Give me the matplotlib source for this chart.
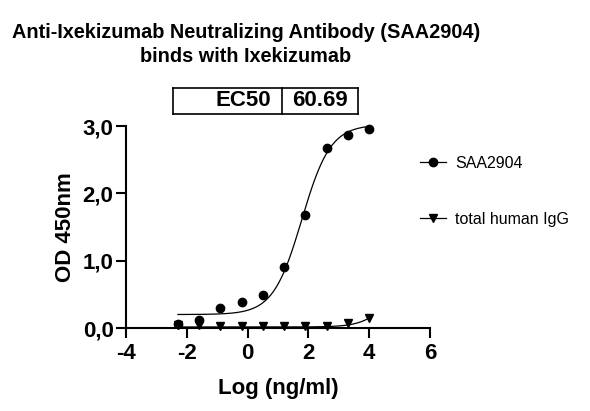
import numpy as np
import matplotlib.pyplot as plt
from matplotlib.lines import Line2D

plt.rcParams['font.family'] = ['Liberation Sans', 'DejaVu Sans']
plt.rcParams['axes.unicode_minus'] = False

# log10 concentration (ng/ml), 5-fold dilution series from 10000 ng/ml
log_conc = [-2.291, -1.592, -0.893, -0.194, 0.505, 1.204, 1.903, 2.602, 3.301, 4.0]
od_saa2904 = [0.06, 0.12, 0.30, 0.38, 0.49, 0.91, 1.68, 2.68, 2.86, 2.95]
od_igg = [0.04, 0.05, 0.03, 0.03, 0.03, 0.03, 0.03, 0.03, 0.08, 0.15]

series_names = ['SAA2904', 'total human IgG']
ec50_value = '60.69'

# 4PL fit parameters (bottom, top, logEC50, hill)
fit_saa2904 = (0.20, 3.02, np.log10(60.69), 0.92)
fit_igg = (0.015, 1.0, 4.8, 1.0)


def four_pl(x, bottom, top, log_ec50, hill):
    return bottom + (top - bottom) / (1 + 10 ** ((log_ec50 - x) * hill))


fig = plt.figure(figsize=(5.9, 4.11), dpi=100)
ax = fig.add_axes([126 / 590, 83 / 411, 304 / 590, 202 / 411])

xs = np.linspace(min(log_conc), max(log_conc), 300)
ax.plot(xs, four_pl(xs, *fit_saa2904), color='black', lw=0.9, clip_on=False)
ax.plot(xs, four_pl(xs, *fit_igg), color='black', lw=0.9, clip_on=False)
ax.plot(log_conc, od_saa2904, 'o', color='black', ms=6, clip_on=False, zorder=3)
ax.plot(log_conc, od_igg, 'v', color='black', ms=6, clip_on=False, zorder=3)

ax.set_xlim(-4, 6)
ax.set_ylim(0, 3)
ax.set_xticks([-4, -2, 0, 2, 4, 6])
ax.set_yticks([0, 1, 2, 3])
ax.set_yticklabels([f'{v:.1f}'.replace('.', ',') for v in [0, 1, 2, 3]])

for side in ['top', 'right']:
    ax.spines[side].set_visible(False)
for side in ['left', 'bottom']:
    ax.spines[side].set_linewidth(1.5)
ax.tick_params(direction='out', length=7, width=1.5, labelsize=16, pad=2)
ax.tick_params(axis='x', pad=4)
for lab in ax.get_xticklabels() + ax.get_yticklabels():
    lab.set_fontweight('bold')

ax.set_xlabel('Log (ng/ml)', fontsize=16, fontweight='bold', labelpad=10)
ax.set_ylabel('OD 450nm', fontsize=16, fontweight='bold', labelpad=5)

fig.text(246 / 590, 1 - 33 / 411, 'Anti-Ixekizumab Neutralizing Antibody (SAA2904)',
         ha='center', va='center', fontsize=14.3, fontweight='bold')
fig.text(246 / 590, 1 - 56 / 411, 'binds with Ixekizumab',
         ha='center', va='center', fontsize=14.3, fontweight='bold')

# EC50 table
x0, x1, xm = 173 / 590, 358 / 590, 282 / 590
y0, y1 = 1 - 114 / 411, 1 - 88 / 411
for xa, xb, ya, yb in [(x0, x1, y0, y0), (x0, x1, y1, y1), (x0, x0, y0, y1),
                       (x1, x1, y0, y1), (xm, xm, y0, y1)]:
    fig.add_artist(Line2D([xa, xb], [ya, yb], color='black', lw=1.2))
fig.text(xm - 11 / 590, (y0 + y1) / 2, 'EC50', ha='right', va='center',
         fontsize=16, fontweight='bold')
fig.text((xm + x1) / 2, (y0 + y1) / 2, ec50_value, ha='center', va='center',
         fontsize=16, fontweight='bold')

handles = [Line2D([], [], color='black', marker='o', ms=6, lw=0.9),
           Line2D([], [], color='black', marker='v', ms=6, lw=0.9)]
fig.legend(handles, series_names, loc='upper left', bbox_to_anchor=(412 / 590, 1 - 148 / 411),
           frameon=False, fontsize=11.5, handlelength=1.6, handletextpad=0.6,
           labelspacing=2.55, borderpad=0)

fig.savefig('out.png', dpi=100)
